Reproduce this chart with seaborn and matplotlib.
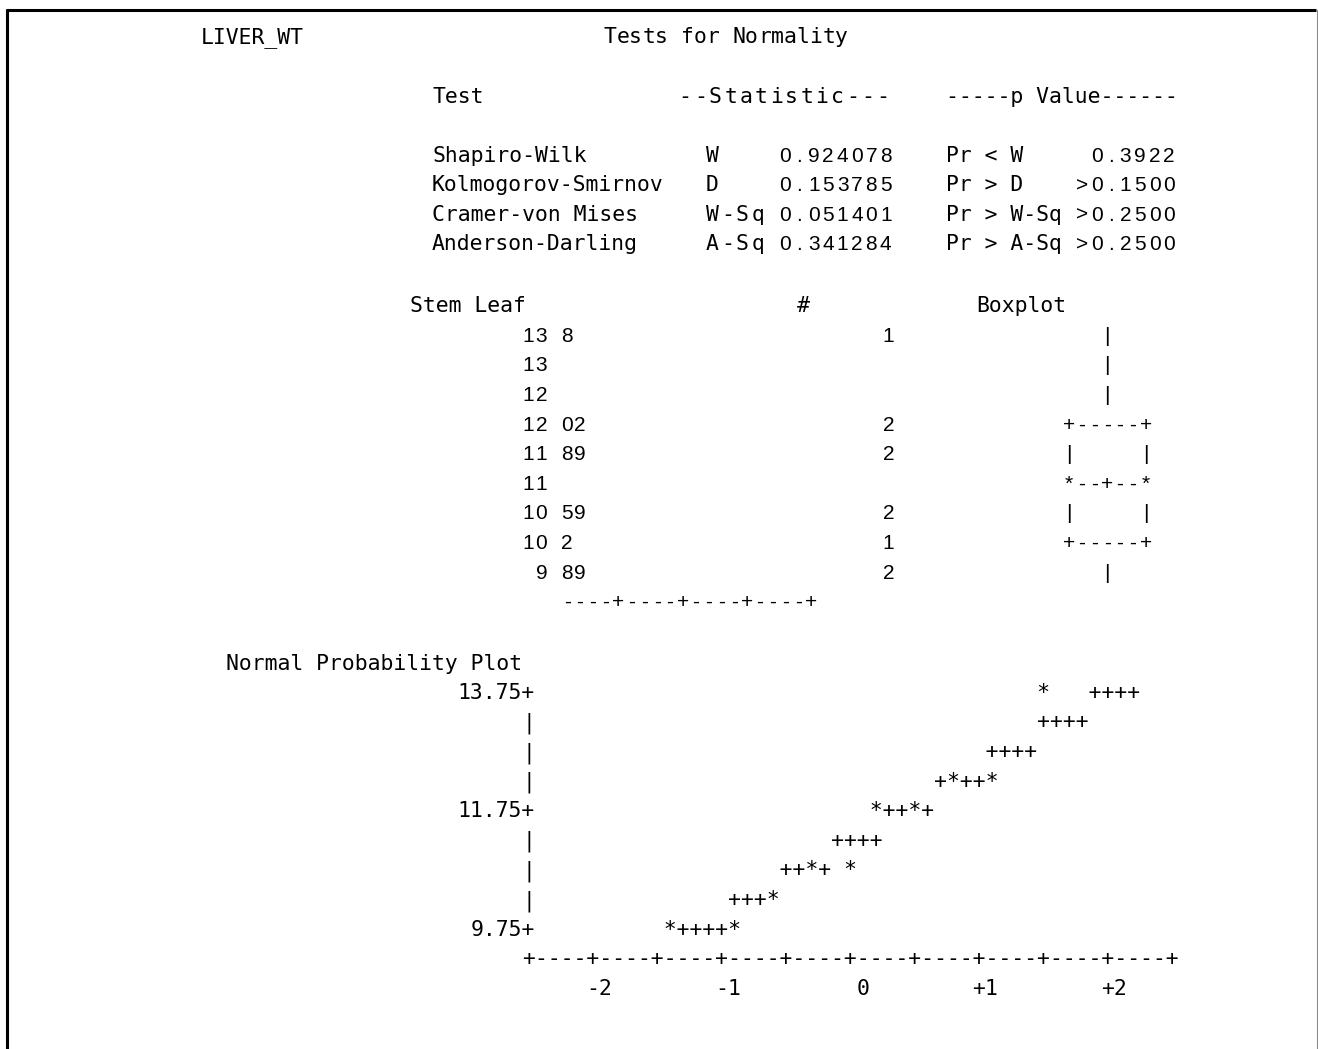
import matplotlib
matplotlib.use("Agg")
import matplotlib.pyplot as plt
from matplotlib.lines import Line2D
import seaborn as sns

# ---------------- data (read from the SAS listing) ----------------
variable = "LIVER_WT"
title = "Tests for Normality"

test_names = ["Shapiro-Wilk", "Kolmogorov-Smirnov", "Cramer-von Mises", "Anderson-Darling"]
stat_labels = ["W", "D", "W-Sq", "A-Sq"]
stat_values = [0.924078, 0.153785, 0.051401, 0.341284]
p_labels = ["Pr < W", "Pr > D", "Pr > W-Sq", "Pr > A-Sq"]
p_values = ["0.3922", ">0.1500", ">0.2500", ">0.2500"]

stems = [13, 13, 12, 12, 11, 11, 10, 10, 9]
leaves = ["8", "", "", "02", "89", "", "59", "2", "89"]
boxplot_rows = ["   |   ", "   |   ", "   |   ", "+-----+", "|     |",
                "*--+--*", "|     |", "+-----+", "   |   "]
stem_axis = "----+----+----+----+"

npp_y_labels = ["13.75", "11.75", "9.75"]
npp_rows = [
    " " * 39 + "*   ++++",
    " " * 39 + "++++",
    " " * 35 + "++++",
    " " * 31 + "+*++*",
    " " * 26 + "*++*+",
    " " * 23 + "++++",
    " " * 19 + "++*+ *",
    " " * 15 + "+++*",
    " " * 10 + "*++++*",
]
npp_x_labels = ["-2", "-1", "0", "+1", "+2"]
npp_x_label_cols = [5, 15, 26, 35, 45]
npp_axis = "+" + "----+" * 10

# ---------------- figure ----------------
sns.set_theme(style="white")
MONO = ["DejaVu Sans Mono", "DejaVu Sans"]
SANS = ["Liberation Sans", "DejaVu Sans"]
plt.rcParams["font.family"] = MONO
plt.rcParams["text.color"] = "black"

W, H = 1318, 1049
fig = plt.figure(figsize=(W / 100, H / 100), dpi=100)
ax = fig.add_axes([0, 0, 1, 1])
ax.set_xlim(0, W)
ax.set_ylim(H, 0)
ax.axis("off")

X0 = 528.5          # x centre of grid column 0
PITCH = 12.86       # character cell width
LINE = 29.6         # line height
FS_MONO = PITCH / 0.602 * 0.72   # mono font whose advance equals the cell
FS_SANS = 15
BASE = 7.8          # baseline offset from visual line centre


def text(s, col, yc):
    """Whole string in the monospace font on the character grid."""
    ax.text(X0 + (col - 0.5) * PITCH, yc + BASE, s, ha="left", va="baseline",
            fontsize=FS_MONO, family=MONO, color="black")


def chars(s, x_first, yc, pitch=PITCH, family=SANS, fs=FS_SANS):
    """String drawn character by character at a given pitch."""
    for i, ch in enumerate(s):
        if ch != " ":
            ax.text(x_first + i * pitch, yc + BASE, ch, ha="center",
                    va="baseline", fontsize=fs, family=family, color="black")


def gx(col):
    return X0 + col * PITCH


# border
ax.add_line(Line2D([6, 1316], [10, 10], color="black", lw=2.2, solid_capstyle="butt"))
ax.add_line(Line2D([7, 7], [9, H], color="black", lw=2.2, solid_capstyle="butt"))
ax.add_line(Line2D([1316.5, 1316.5], [10, H], color="#888888", lw=0.8))

# title line
text(variable, -25, 35)
chars(title, 610, 35, pitch=PITCH, family=MONO, fs=FS_MONO)

# tests for normality table
ST_P = 15.2
text("Test", -7, 95)
chars("--Statistic---", 685, 95, pitch=ST_P, family=MONO, fs=FS_MONO)
text("-----p Value------", 33, 95)
for i in range(len(test_names)):
    y = 154 + i * 29.5
    text(test_names[i], -7, y)
    chars(stat_labels[i], 712, y, pitch=ST_P, family=MONO, fs=FS_MONO)
    chars(f"{stat_values[i]:.6f}", 785, y, pitch=14.4)
    text(p_labels[i], 33, y)
    pv = p_values[i]
    chars(pv, 1169 - (len(pv) - 1) * 14.5, y, pitch=14.5)

# stem and leaf + boxplot
text("Stem Leaf", -8.7, 304)
text("#", 21.35, 304)
text("Boxplot", 35.3, 304)
for i in range(len(stems)):
    y = 334 + i * LINE
    chars(f"{stems[i]:>2}", gx(0), y)
    chars(leaves[i], gx(3), y)
    if leaves[i]:
        chars(str(len(leaves[i])), gx(28), y)
    chars(boxplot_rows[i], gx(42), y)
chars(stem_axis, gx(3), 334 + len(stems) * LINE)

# normal probability plot
text("Normal Probability Plot", -23, 662)
for i, row in enumerate(npp_rows):
    y = 691 + i * LINE
    if i in (0, 4, 8):
        lab = npp_y_labels[(0, 4, 8).index(i)]
        text(lab + "+", -len(lab), y)
    else:
        text("|", 0, y)
    text(row, 1, y)
text(npp_axis, 0, 691 + 9 * LINE)
for lab, c in zip(npp_x_labels, npp_x_label_cols):
    text(lab, c, 691 + 10 * LINE)

fig.savefig("out.png", dpi=100, facecolor="white")
